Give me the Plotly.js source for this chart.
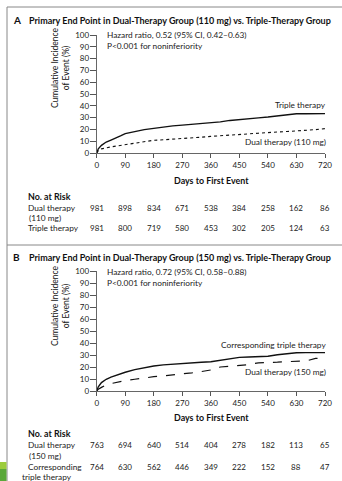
<!DOCTYPE html>
<html>
<head>
<meta charset="utf-8">
<script src="https://cdn.plot.ly/plotly-3.0.1.min.js"></script>
<style>html,body{margin:0;padding:0;background:#fff;}#chart{width:342px;height:481px;}</style>
</head>
<body>
<div id="chart"></div>
<script>
// ---- Data ----
const daysA = [0, 5, 15, 30, 45, 60, 75, 90, 120, 150, 180, 210, 240, 270, 300, 330, 360, 390, 420, 450, 480, 510, 540, 570, 600, 630, 660, 690, 720];
const tripleA = [0, 3.5, 6.5, 9.3, 11, 12.5, 14.5, 16.4, 18.3, 19.8, 20.9, 22.2, 23, 23.6, 24.2, 24.8, 25.4, 26.4, 27.6, 28.5, 29.1, 29.8, 30.5, 31.5, 32.5, 33.2, 33.3, 33.3, 33.4];
const dualA = [0, 2, 3.5, 4.5, 5.2, 5.8, 6.4, 7, 8, 9.5, 10.8, 11.2, 11.6, 12.2, 12.8, 13.4, 14.1, 14.5, 15, 15.6, 16.2, 16.8, 17.5, 17.8, 18.2, 18.6, 19.2, 19.8, 20.7];

const daysB = [0, 5, 15, 30, 45, 60, 75, 90, 120, 150, 180, 210, 240, 270, 300, 330, 360, 390, 420, 450, 480, 510, 540, 570, 600, 630, 660, 690, 720];
const tripleB = [0, 3.5, 7, 9.8, 11.5, 13, 14.5, 15.6, 17.8, 19.5, 20.8, 21.8, 22.5, 23, 23.5, 24, 24.4, 25.5, 26.8, 28, 28.3, 28.6, 29, 30.2, 31.3, 31.9, 32, 32, 32];
const dualB = [0, 1.5, 3, 5, 6.2, 7.2, 8, 8.6, 9.8, 11, 11.9, 12.6, 13.3, 14.2, 15.1, 16.2, 17.5, 20, 20.7, 21.7, 22, 23.5, 23.6, 24, 24.5, 25, 25, 27.2, 27.5];

const riskDays = [0, 90, 180, 270, 360, 450, 540, 630, 720];
const riskDualA = [981, 898, 834, 671, 538, 384, 258, 162, 86];
const riskTripleA = [981, 800, 719, 580, 453, 302, 205, 124, 63];
const riskDualB = [763, 694, 640, 514, 404, 278, 182, 113, 65];
const riskTripleB = [764, 630, 562, 446, 349, 222, 152, 88, 47];

const xTicks = [0, 90, 180, 270, 360, 450, 540, 630, 720];
const yTicks = [0, 10, 20, 30, 40, 50, 60, 70, 80, 90, 100];

// ---- Layout helpers ----
const W = 342, H = 481;
const fx = p => p / W;
const fy = p => 1 - p / H;
const FONT = 'Lato';
const TXT = '#222';
const BODY = 8.3;

const traces = [
  {x: daysA, y: tripleA, xaxis: 'x', yaxis: 'y', mode: 'lines', line: {color: '#111', width: 1.4}, hoverinfo: 'skip'},
  {x: daysA, y: dualA, xaxis: 'x', yaxis: 'y', mode: 'lines', line: {color: '#111', width: 1.1, dash: 'dot'}, hoverinfo: 'skip'},
  {x: daysB, y: tripleB, xaxis: 'x2', yaxis: 'y2', mode: 'lines', line: {color: '#111', width: 1.4}, hoverinfo: 'skip'},
  {x: daysB, y: dualB, xaxis: 'x2', yaxis: 'y2', mode: 'lines', line: {color: '#111', width: 1.2, dash: 'dash'}, hoverinfo: 'skip'}
];

function xax(anchor) {
  return {
    domain: [fx(96.7), fx(325)], range: [0, 720], anchor: anchor,
    tickvals: xTicks, ticks: 'outside', ticklen: 4, tickcolor: '#555', tickwidth: 1,
    showline: true, linecolor: '#666', linewidth: 1, showgrid: false, zeroline: false,
    tickfont: {family: FONT, size: 8, color: TXT}
  };
}
function yax(anchor, top, bottom) {
  return {
    domain: [fy(bottom), fy(top)], range: [0, 100], anchor: anchor,
    tickvals: yTicks, ticks: 'outside', ticklen: 6, tickcolor: '#555', tickwidth: 1,
    ticklabelstandoff: -1,
    showline: true, linecolor: '#666', linewidth: 1, showgrid: false, zeroline: false,
    tickfont: {family: FONT, size: 8, color: TXT}
  };
}

const annotations = [];
function addText(text, x, y, opts) {
  annotations.push(Object.assign({
    text: text, x: fx(x), y: fy(y), xref: 'paper', yref: 'paper',
    showarrow: false, xanchor: 'left', yanchor: 'middle',
    font: {family: FONT, size: BODY, color: TXT}
  }, opts || {}));
}

// Panel titles
addText('<b>A</b>', 11, 20, {font: {family: FONT, size: 10, color: '#111'}});
addText('<b>Primary End Point in Dual-Therapy Group (110 mg) vs. Triple-Therapy Group</b>', 27, 20, {font: {family: FONT, size: 9, color: '#111'}});
addText('<b>B</b>', 11, 257, {font: {family: FONT, size: 10, color: '#111'}});
addText('<b>Primary End Point in Dual-Therapy Group (150 mg) vs. Triple-Therapy Group</b>', 27, 257, {font: {family: FONT, size: 9, color: '#111'}});

// Hazard text
addText('Hazard ratio, 0.52 (95% CI, 0.42–0.63)', 105, 35);
addText('P&lt;0.001 for noninferiority', 105, 46);
addText('Hazard ratio, 0.72 (95% CI, 0.58–0.88)', 105, 272);
addText('P&lt;0.001 for noninferiority', 105, 283);

// Curve labels
addText('Triple therapy', 328, 105, {xanchor: 'right'});
addText('Dual therapy (110 mg)', 328, 142, {xanchor: 'right'});
addText('Corresponding triple therapy', 328, 345, {xanchor: 'right'});
addText('Dual therapy (150 mg)', 328, 372, {xanchor: 'right'});

// Y-axis titles
addText('Cumulative Incidence<br>of Event (%)', 60, 68, {xanchor: 'center', textangle: -90, font: {family: FONT, size: 8.5, color: '#111'}});
addText('Cumulative Incidence<br>of Event (%)', 60, 306, {xanchor: 'center', textangle: -90, font: {family: FONT, size: 8.5, color: '#111'}});

// X-axis titles
addText('<b>Days to First Event</b>', 211, 180, {xanchor: 'center', font: {family: FONT, size: 8.9, color: '#111'}});
addText('<b>Days to First Event</b>', 211, 417, {xanchor: 'center', font: {family: FONT, size: 8.9, color: '#111'}});

// Risk tables
addText('<b>No. at Risk</b>', 26, 197, {font: {family: FONT, size: 8.9, color: '#111'}});
addText('Dual therapy', 26, 208);
addText('(110 mg)', 45, 218, {xanchor: 'center'});
addText('Triple therapy', 26, 228);
addText('<b>No. at Risk</b>', 26, 433, {font: {family: FONT, size: 8.9, color: '#111'}});
addText('Dual therapy', 26, 445);
addText('(150 mg)', 45, 456, {xanchor: 'center'});
addText('Corresponding', 26, 467);
addText('triple therapy', 47, 477, {xanchor: 'center'});

function riskRow(vals, xref, y) {
  riskDays.forEach((d, i) => {
    annotations.push({
      text: String(vals[i]), x: d, xref: xref, y: fy(y), yref: 'paper',
      showarrow: false, xanchor: 'center', yanchor: 'middle',
      font: {family: FONT, size: 8, color: TXT}
    });
  });
}
riskRow(riskDualA, 'x', 208);
riskRow(riskTripleA, 'x', 228);
riskRow(riskDualB, 'x2', 445);
riskRow(riskTripleB, 'x2', 467);

const shapes = [
  {type: 'line', xref: 'paper', yref: 'paper', x0: fx(7), x1: fx(342), y0: fy(7), y1: fy(7), line: {color: '#888', width: 1}},
  {type: 'line', xref: 'paper', yref: 'paper', x0: fx(7), x1: fx(7), y0: fy(7), y1: fy(481), line: {color: '#888', width: 1}},
  {type: 'line', xref: 'paper', yref: 'paper', x0: fx(7), x1: fx(342), y0: fy(245), y1: fy(245), line: {color: '#888', width: 1}},
  {type: 'rect', xref: 'paper', yref: 'paper', x0: fx(0), x1: fx(6.5), y0: fy(462), y1: fy(469), line: {width: 0}, fillcolor: '#9ccc3c'},
  {type: 'rect', xref: 'paper', yref: 'paper', x0: fx(0), x1: fx(6.5), y0: fy(469), y1: fy(481), line: {width: 0}, fillcolor: '#5aa83a'}
];

const layout = {
  width: W, height: H,
  margin: {l: 0, r: 0, t: 0, b: 0},
  paper_bgcolor: '#fff', plot_bgcolor: '#fff',
  showlegend: false,
  xaxis: xax('y'),
  yaxis: yax('x', 35, 153),
  xaxis2: xax('y2'),
  yaxis2: yax('x2', 271, 391),
  annotations: annotations,
  shapes: shapes,
  font: {family: FONT, size: BODY, color: TXT}
};

Plotly.newPlot('chart', traces, layout, {displayModeBar: false, staticPlot: true});
</script>
</body>
</html>
